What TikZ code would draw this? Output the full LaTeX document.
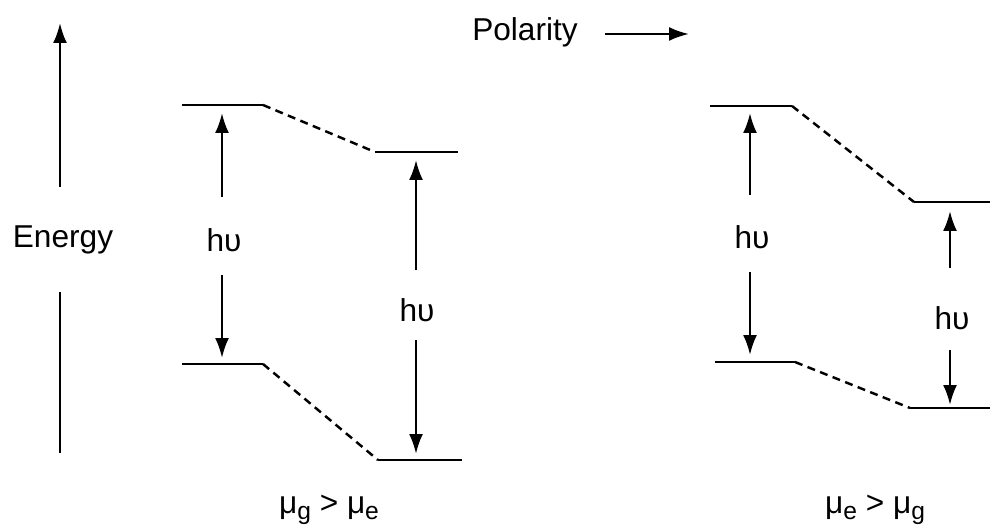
\documentclass[tikz,border=0pt]{standalone}
\usepackage{fontspec}
\setmainfont{Liberation Sans}
\usetikzlibrary{arrows.meta}

\newcommand{\lowsub}[1]{\raisebox{-0.35ex}{\fontsize{14}{16}\selectfont #1}}

\begin{document}
\begin{tikzpicture}[x=0.02cm, y=-0.02cm, line width=1.4pt,
  every node/.style={font=\fontsize{18}{21}\selectfont, inner sep=0pt},
  arr/.style={-{Latex[length=4mm,width=2.8mm]}},
  link/.style={dash pattern=on 1.6mm off 1.1mm}]
  \useasboundingbox (0,0) rectangle (990,526);

  % axes
  \node (en) at (63,240) {Energy};
  \coordinate (enT) at (60,23);
  \coordinate (enU) at (60,187);
  \coordinate (enL) at (60,292);
  \coordinate (enB) at (60,453);
  \draw[arr] (enU) -- (enT);
  \draw (enL) -- (enB);
  \node (pol) at (525,32) {Polarity};
  \coordinate (polA) at (605,34);
  \coordinate (polB) at (689,34);
  \draw[arr] (polA) -- (polB);

  % left: mu_g > mu_e
  \coordinate (ua1) at (182,105); \coordinate (ua2) at (263,105);
  \coordinate (ua3) at (375,152); \coordinate (ua4) at (458,152);
  \draw (ua1) -- (ua2); \draw[link] (ua2) -- (ua3); \draw (ua3) -- (ua4);
  \coordinate (la1) at (182,364); \coordinate (la2) at (263,364);
  \coordinate (la3) at (378,460); \coordinate (la4) at (462,460);
  \draw (la1) -- (la2); \draw[link] (la2) -- (la3); \draw (la3) -- (la4);

  \node (hvA) at (224,240) {hυ};
  \coordinate (hvAu) at (222,197); \coordinate (hvAt) at (222,113);
  \coordinate (hvAd) at (222,275); \coordinate (hvAb) at (222,358);
  \draw[arr] (hvAu) -- (hvAt);
  \draw[arr] (hvAd) -- (hvAb);
  \node (hvB) at (417,310) {hυ};
  \coordinate (hvBu) at (416,270); \coordinate (hvBt) at (416,160);
  \coordinate (hvBd) at (416,340); \coordinate (hvBb) at (416,454);
  \draw[arr] (hvBu) -- (hvBt);
  \draw[arr] (hvBd) -- (hvBb);
  \node (lblA) at (329,510) {μ\lowsub{g} > μ\lowsub{e}};

  % right: mu_e > mu_g
  \coordinate (ub1) at (710,106); \coordinate (ub2) at (792,106);
  \coordinate (ub3) at (914,202); \coordinate (ub4) at (990,202);
  \draw (ub1) -- (ub2); \draw[link] (ub2) -- (ub3); \draw (ub3) -- (ub4);
  \coordinate (lb1) at (715,362); \coordinate (lb2) at (795,362);
  \coordinate (lb3) at (910,408); \coordinate (lb4) at (990,408);
  \draw (lb1) -- (lb2); \draw[link] (lb2) -- (lb3); \draw (lb3) -- (lb4);

  \node (hvC) at (752,237) {hυ};
  \coordinate (hvCu) at (750,195); \coordinate (hvCt) at (750,113);
  \coordinate (hvCd) at (750,272); \coordinate (hvCb) at (750,355);
  \draw[arr] (hvCu) -- (hvCt);
  \draw[arr] (hvCd) -- (hvCb);
  \node (hvD) at (952,318) {hυ};
  \coordinate (hvDu) at (950,268); \coordinate (hvDt) at (950,211);
  \coordinate (hvDd) at (950,350); \coordinate (hvDb) at (950,405);
  \draw[arr] (hvDu) -- (hvDt);
  \draw[arr] (hvDd) -- (hvDb);
  \node (lblB) at (875,510) {μ\lowsub{e} > μ\lowsub{g}};
\end{tikzpicture}
\end{document}
